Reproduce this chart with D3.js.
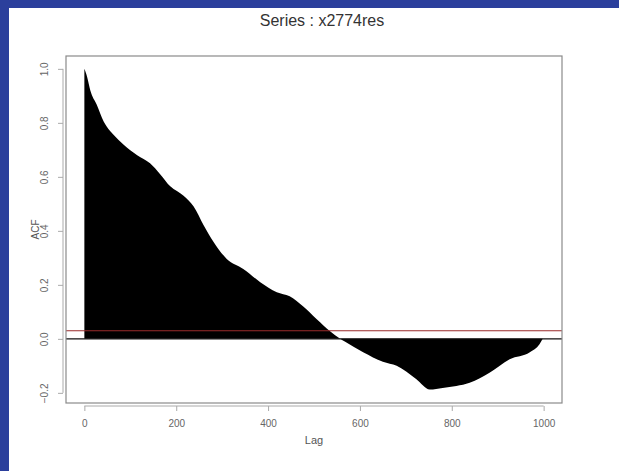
<!DOCTYPE html>
<html>
<head>
<meta charset="utf-8">
<script src="https://cdn.jsdelivr.net/npm/d3@7"></script>
<style>
  html, body { margin: 0; padding: 0; background: #2b3f9c; }
  svg { display: block; }
</style>
</head>
<body>
<svg id="chart" width="619" height="471"></svg>
<script>
// Autocorrelation of the residual series, sampled along the lag axis
const lags = [0, 6, 13, 27, 42, 56, 64, 85, 115, 143, 165, 187, 216, 238, 260, 281, 310, 346, 383, 419, 447, 476, 506, 535, 557, 567, 607, 650, 680, 723, 752, 780, 810, 839, 883, 926, 970, 991, 998];
const acf  = [1.0, 0.97, 0.92, 0.867, 0.805, 0.77, 0.755, 0.72, 0.68, 0.65, 0.61, 0.565, 0.53, 0.49, 0.42, 0.36, 0.296, 0.259, 0.21, 0.173, 0.158, 0.121, 0.073, 0.028, 0.0, -0.01, -0.05, -0.085, -0.10, -0.15, -0.188, -0.182, -0.175, -0.163, -0.125, -0.076, -0.05, -0.02, 0.0];
const xTicks = [0, 200, 400, 600, 800, 1000];
const yTicks = [-0.2, 0.0, 0.2, 0.4, 0.6, 0.8, 1.0];
const ciLevel = 0.03;
const title = "Series : x2774res";

const svg = d3.select("#chart");

// white page area inside the blue frame
svg.append("rect").attr("x", 9).attr("y", 8).attr("width", 610).attr("height", 463).attr("fill", "#ffffff");

const box = { left: 66, right: 562, top: 56, bottom: 403 };
const x = d3.scaleLinear().domain([-40, 1040]).range([box.left, box.right]);
const y = d3.scaleLinear().domain([-0.2376, 1.0476]).range([box.bottom, box.top]);

const g = svg.append("g");

// ACF spikes drawn as a filled envelope
const pts = lags.map((l, i) => [l, acf[i]]);
const area = d3.area()
  .x(d => x(d[0]))
  .y0(y(0))
  .y1(d => y(d[1]))
  .curve(d3.curveMonotoneX);
g.append("path").datum(pts).attr("d", area).attr("fill", "#000");

// zero line and significance bound
g.append("line").attr("x1", box.left).attr("x2", box.right)
  .attr("y1", y(0)).attr("y2", y(0)).attr("stroke", "#111").attr("stroke-width", 1.2);
g.append("line").attr("x1", box.left).attr("x2", box.right)
  .attr("y1", y(ciLevel)).attr("y2", y(ciLevel)).attr("stroke", "#9a2b2b").attr("stroke-width", 1.2);

// plot frame
g.append("rect").attr("x", box.left).attr("y", box.top)
  .attr("width", box.right - box.left).attr("height", box.bottom - box.top)
  .attr("fill", "none").attr("stroke", "#8a8a8a").attr("stroke-width", 1.2);

// axes
const xAxis = d3.axisBottom(x).tickValues(xTicks).tickSize(5).tickPadding(9).tickFormat(d3.format("d"));
const gx = svg.append("g").attr("transform", `translate(0,${box.bottom + 3})`).call(xAxis);
gx.select(".domain").attr("d", `M${x(0)},0H${x(1000)}`).attr("stroke", "#aaa");
gx.selectAll(".tick line").attr("stroke", "#aaa");
gx.selectAll("text").attr("fill", "#666").style("font-family", "Liberation Sans, Arial, sans-serif").style("font-size", "10px");

const yAxis = d3.axisLeft(y).tickValues(yTicks).tickSize(5).tickPadding(0).tickFormat(d3.format(".1f"));
const gy = svg.append("g").attr("transform", `translate(${box.left - 3},0)`).call(yAxis);
gy.select(".domain").attr("d", `M0,${y(-0.2)}V${y(1.0)}`).attr("stroke", "#aaa");
gy.selectAll(".tick line").attr("stroke", "#aaa");
gy.selectAll("text")
  .attr("fill", "#666")
  .attr("x", null).attr("dy", null)
  .attr("text-anchor", "middle")
  .attr("transform", "translate(-15,0) rotate(-90)")
  .style("font-family", "Liberation Sans, Arial, sans-serif").style("font-size", "10px");

// titles
svg.append("text").attr("x", 322).attr("y", 26).attr("text-anchor", "middle")
  .attr("fill", "#333").style("font-family", "Liberation Sans, Arial, sans-serif").style("font-size", "16px")
  .text(title);
svg.append("text").attr("x", 314).attr("y", 444).attr("text-anchor", "middle")
  .attr("fill", "#555").style("font-family", "Liberation Sans, Arial, sans-serif").style("font-size", "11px")
  .text("Lag");
svg.append("text").attr("transform", `translate(39,${(box.top + box.bottom) / 2}) rotate(-90)`)
  .attr("text-anchor", "middle")
  .attr("fill", "#555").style("font-family", "Liberation Sans, Arial, sans-serif").style("font-size", "10px")
  .text("ACF");
</script>
</body>
</html>
